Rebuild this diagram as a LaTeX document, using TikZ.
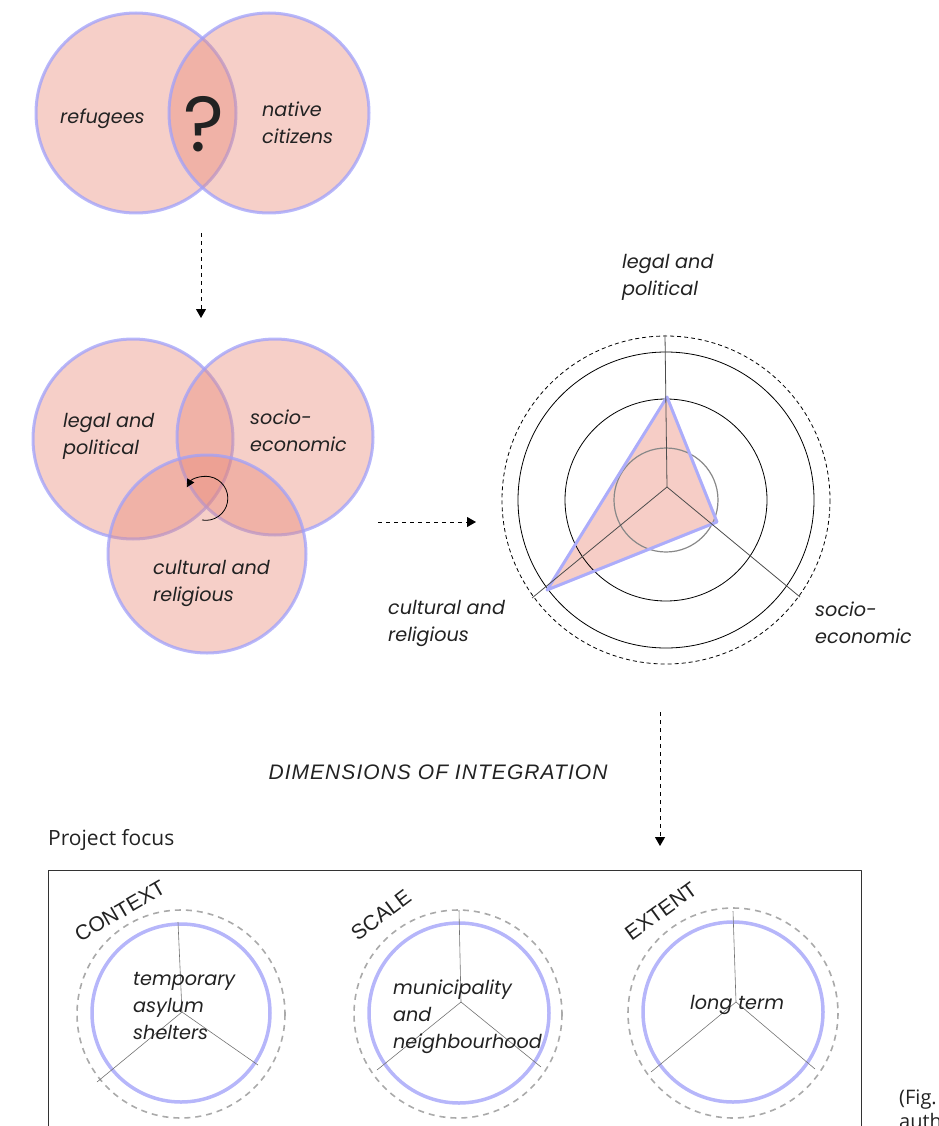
\documentclass[tikz,border=0pt]{standalone}
\usepackage{fontspec}
\setmainfont{Poppins}
\newfontfamily\notefont{Open Sans}
\newfontfamily\headfont{Liberation Sans}
\usetikzlibrary{arrows.meta,positioning}

\definecolor{venpink}{RGB}{232,135,118}
\definecolor{venblue}{RGB}{160,160,250}
\definecolor{radarfill}{RGB}{246,205,198}
\definecolor{radarblue}{RGB}{172,172,250}
\definecolor{ringblue}{RGB}{182,182,250}
\definecolor{ringgray}{RGB}{170,170,170}
\definecolor{inkdark}{RGB}{34,34,34}

\tikzset{
  venn/.style={fill=venpink,fill opacity=0.4,draw=venblue,draw opacity=0.75,line width=3pt},
  lbl/.style={font=\fontsize{19.2}{27}\selectfont\itshape,text=inkdark,align=left,inner sep=0pt,anchor=west},
  caps/.style={font=\headfont\fontsize{21}{24}\selectfont,text=inkdark,inner sep=0pt},
  flow/.style={line width=1pt,dash pattern=on 4pt off 4pt,-{Triangle[length=9pt,width=10pt]}},
  spoke/.style={draw=black!55,line width=0.6pt},
  ring/.style={draw=ringblue,line width=3.5pt},
  halo/.style={draw=ringgray,line width=1.6pt,dash pattern=on 6pt off 5pt}
}

\begin{document}
\begin{tikzpicture}[x=1pt,y=-1pt,line join=round]
  \useasboundingbox (0,0) rectangle (938,1126);

  % two circles
  \draw[venn] (136,113) circle (100);
  \draw[venn] (269,113) circle (100);
  \node[lbl] (refugees) at (60,119) {refugees};
  \node[lbl] (natives) at (262,123) {native\\citizens};
  \node[font=\fontsize{78}{78}\selectfont,text=inkdark] (qmark) at (204,124) {?};

  \coordinate (a1s) at (201,233);
  \coordinate (a1e) at (201,318);
  \draw[flow] (a1s) -- (a1e);

  % three circles
  \draw[venn] (133,439) circle (100);
  \draw[venn] (275,437) circle (98);
  \draw[venn] (207,554) circle (99);
  \node[lbl] (legal) at (63,436) {legal and\\political};
  \node[lbl] (socio) at (250,431) {socio-\\economic};
  \node[lbl] (cultural) at (153,583) {cultural and\\religious};
  \coordinate (spin) at (202,520);
  \draw[line width=0.8pt,-{Triangle[length=8pt,width=8pt]}] (spin) arc[start angle=100,end angle=-150,radius=22];

  \coordinate (a2s) at (378,522);
  \coordinate (a2e) at (476,522);
  \draw[flow] (a2s) -- (a2e);

  % radar
  \coordinate (rc) at (666,500);
  \coordinate (hub) at (667,487);
  \coordinate (axL) at (665,335);
  \coordinate (axS) at (800,597);
  \coordinate (axC) at (532,598);
  \coordinate (tL) at (667,397);
  \coordinate (tS) at (717,522);
  \coordinate (tC) at (547,590);
  \fill[radarfill] (tL) -- (tS) -- (tC) -- cycle;
  \draw[ringgray!80!black,line width=1.2pt] (rc) circle (52);
  \draw[line width=0.8pt] (rc) circle (101);
  \draw[line width=0.8pt] (rc) circle (148);
  \draw[line width=0.8pt,dash pattern=on 4pt off 3pt] (rc) circle (164);
  \draw[radarblue,line width=3pt] (tL) -- (tS) -- (tC) -- cycle;
  \draw[black!70,line width=0.8pt] (hub) -- (axL);
  \draw[black!70,line width=0.8pt] (hub) -- (axS);
  \draw[black!70,line width=0.8pt] (hub) -- (axC);
  \node[lbl] (rlegal) at (622,277) {legal and\\political};
  \node[lbl] (rsocio) at (815,623) {socio-\\economic};
  \node[lbl] (rcultural) at (388,623) {cultural and\\religious};

  \coordinate (a3s) at (660,712);
  \coordinate (a3e) at (660,846);
  \draw[flow] (a3s) -- (a3e);

  \node[font=\headfont\itshape\fontsize{21}{24}\selectfont\addfontfeatures{LetterSpace=5},text=inkdark,inner sep=0pt] (dims) at (438,772) {DIMENSIONS OF INTEGRATION};
  \node[font=\notefont\fontsize{21}{24}\selectfont,text=inkdark,inner sep=0pt,anchor=west] (focus) at (48,840) {Project focus};

  % focus box
  \draw[black!80,line width=1pt] (48,870) rectangle (861,1150);

  % context
  \draw[halo] (181,1014) circle (104);
  \draw[ring] (181,1013) circle (89);
  \coordinate (cH) at (182,1012);
  \draw[spoke] (cH) -- (178,922);
  \draw[spoke] (cH) -- (97,1082);
  \draw[spoke] (cH) -- (258,1065);
  \node[lbl] (shelters) at (133,1006) {temporary\\asylum\\shelters};
  \node[caps,rotate=30] (context) at (120,911) {CONTEXT};

  % scale
  \draw[halo] (458,1014) circle (104);
  \draw[ring] (459,1013) circle (90);
  \coordinate (sH) at (461,1002);
  \draw[spoke] (sH) -- (459,910);
  \draw[spoke] (sH) -- (377,1070);
  \draw[spoke] (sH) -- (541,1067);
  \node[lbl] (municipality) at (393,1017) {municipality\\and\\neighbourhood};
  \node[caps,rotate=37] (scale) at (381,915) {SCALE};

  % extent
  \draw[halo] (733,1013) circle (105);
  \draw[ring] (733,1012) circle (90);
  \coordinate (eH) at (736,1002);
  \draw[spoke] (eH) -- (733,911);
  \draw[spoke] (eH) -- (651,1072);
  \draw[spoke] (eH) -- (815,1069);
  \node[lbl] (longterm) at (690,1005) {long term};
  \node[caps,rotate=36] (extent) at (661,911) {EXTENT};

  \node[font=\notefont\fontsize{20}{24}\selectfont,text=inkdark,inner sep=0pt,anchor=north west,align=left] (source) at (899,1089) {(Fig. by\\author)};
\end{tikzpicture}
\end{document}
